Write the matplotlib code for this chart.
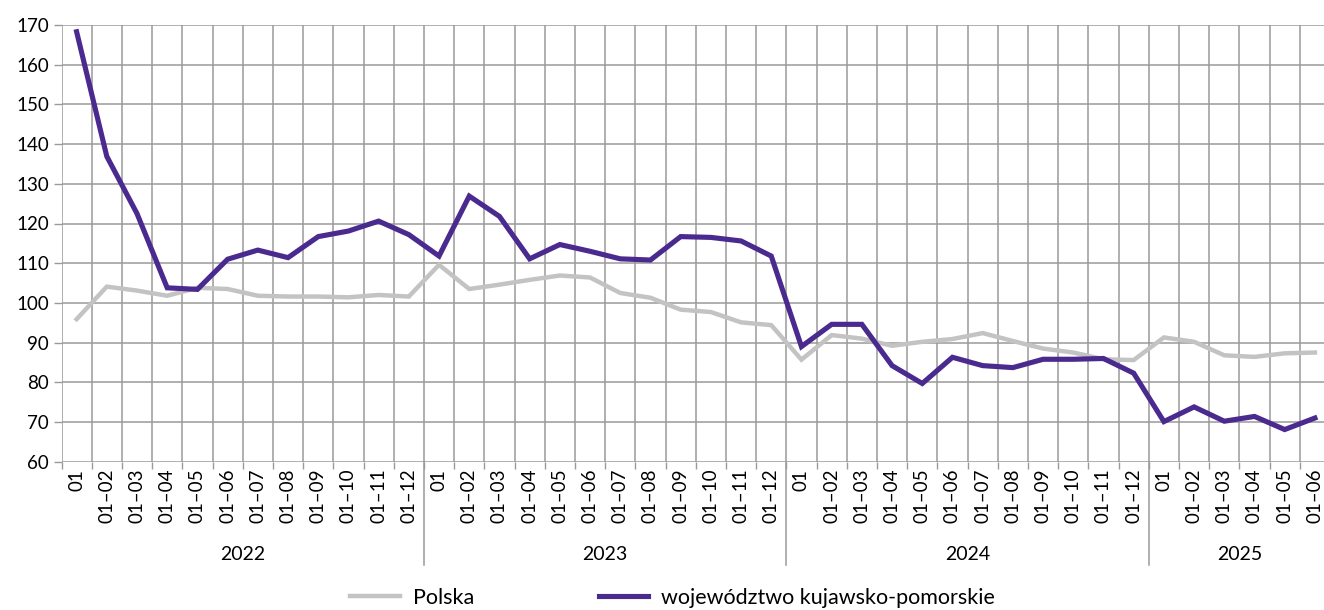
import matplotlib
matplotlib.use("Agg")
import matplotlib.pyplot as plt
from matplotlib.ticker import FixedLocator, MultipleLocator

plt.rcParams['font.family'] = ['Lato', 'DejaVu Sans']

years = ["2022", "2023", "2024", "2025"]
months_per_year = [12, 12, 12, 6]
month_labels = ["01", "01–02", "01–03", "01–04", "01–05", "01–06",
                "01–07", "01–08", "01–09", "01–10", "01–11", "01–12"]

polska = [95.9, 104.1, 103.1, 101.8, 103.8, 103.5, 101.8, 101.6, 101.6, 101.4, 102.0, 101.6,
          109.6, 103.5, 104.6, 105.8, 106.9, 106.4, 102.5, 101.3, 98.3, 97.7, 95.1, 94.4,
          85.7, 91.9, 91.0, 89.2, 90.2, 90.9, 92.4, 90.4, 88.5, 87.5, 85.8, 85.6,
          91.3, 90.2, 86.8, 86.4, 87.3, 87.5]
kujawsko = [168.3, 136.9, 122.5, 103.8, 103.4, 111.0, 113.3, 111.4, 116.7, 118.1, 120.6, 117.2,
            111.8, 126.9, 121.8, 111.1, 114.7, 113.0, 111.1, 110.8, 116.7, 116.5, 115.6, 111.8,
            89.0, 94.6, 94.6, 84.2, 79.7, 86.3, 84.2, 83.7, 85.8, 85.8, 86.0, 82.3,
            70.1, 73.8, 70.2, 71.4, 68.1, 71.0]

labels = []
for n in months_per_year:
    labels += month_labels[:n]
x = list(range(len(labels)))

W, H = 1324, 610
fig = plt.figure(figsize=(W / 100, H / 100), dpi=100)
left, right, top, bottom = 61.5, 1324, 25, 461.7
ax = fig.add_axes([left / W, 1 - bottom / H, (right - left) / W, (bottom - top) / H])

grid_c = "#9a9a9a"
ax.plot(x, polska, color="#c3c3c3", lw=3.2, solid_joinstyle="miter", zorder=3, label="Polska")
ax.plot(x, kujawsko, color="#4b2a8f", lw=3.7, solid_joinstyle="miter", zorder=4,
        label="województwo kujawsko-pomorskie")

ax.set_ylim(60, 170)
ax.set_xlim(-0.5, 41.5 - 6 / 30.2)
ax.yaxis.set_major_locator(MultipleLocator(10))
ax.set_xticks(x)
ax.set_xticklabels(labels, rotation=90, fontsize=13.5, va="top")
ax.xaxis.set_minor_locator(FixedLocator([i - 0.5 for i in range(len(labels) + 1)]))
ax.tick_params(axis="x", which="major", length=0, pad=5)
ax.tick_params(axis="x", which="minor", length=5, color=grid_c, width=1)
ax.tick_params(axis="y", length=6, color=grid_c, width=1, labelsize=13.5, pad=3)
ax.grid(True, axis="y", which="major", color=grid_c, lw=1.1)
ax.grid(True, axis="x", which="minor", color=grid_c, lw=1.1)
for s in ax.spines.values():
    s.set_visible(False)
ax.set_axisbelow(True)

# year separators and labels
trans = ax.get_xaxis_transform()
start = 0
sep_bottom = -(565 - bottom) / (bottom - top)
label_y = -(554 - bottom) / (bottom - top)
for yr, n in zip(years, months_per_year):
    if start > 0:
        ax.plot([start - 0.5, start - 0.5], [0, sep_bottom], transform=trans,
                color=grid_c, lw=1.1, clip_on=False)
    ax.text(start + (n - 1) / 2, label_y, yr, transform=trans, ha="center", va="center",
            fontsize=14)
    start += n

fig.legend(loc="center", bbox_to_anchor=(0.508, 1 - 598 / H), ncol=2, frameon=False,
           fontsize=15.5, handlelength=2.3, handletextpad=0.6, columnspacing=5.8)

fig.savefig("out.png", dpi=100)
